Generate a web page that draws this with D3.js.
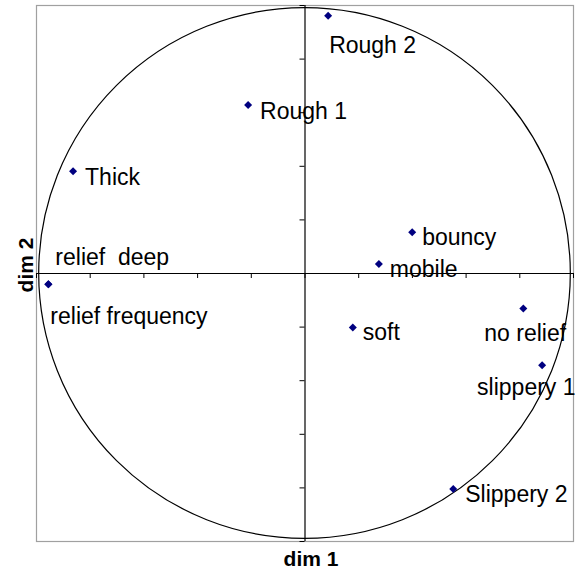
<!DOCTYPE html>
<html><head><meta charset="utf-8">
<script src="https://cdn.jsdelivr.net/npm/d3@7"></script>
<style>body{margin:0;background:#fff;} text{font-family:"Liberation Sans",Arial,sans-serif;}</style>
</head><body><svg id="c" width="586" height="571"></svg>
<script>
const labels = ["Rough 2","Rough 1","Thick","relief  deep","relief frequency","bouncy","mobile","soft","no relief","slippery 1","Slippery 2"];
const dim1 = [0.088,-0.21,-0.862,-0.954,-0.954,0.401,0.277,0.18,0.815,0.885,0.554];
const dim2 = [0.96,0.627,0.38,-0.042,-0.042,0.152,0.034,-0.203,-0.132,-0.344,-0.806];
const ticks = [-1,-0.8,-0.6,-0.4,-0.2,0,0.2,0.4,0.6,0.8,1];
const circleRadius = 0.99;
// label offsets in px (layout)
const labelOffset = {"Rough 2":[1,37],"Rough 1":[12,14],"Thick":[12,14],"relief  deep":[7,-19],"relief frequency":[2,40],"bouncy":[10,13],"mobile":[11,13],"soft":[10,13],"no relief":[-39,33],"slippery 1":[-65,30],"Slippery 2":[12,13]};

const svg = d3.select("#c");
const L=36,R=573,T=5,B=541;
const x = d3.scaleLinear().domain([-1,1]).range([L,R]);
const y = d3.scaleLinear().domain([-1,1]).range([B,T]);

svg.append("rect").attr("x",L+0.5).attr("y",T+0.5).attr("width",R-L).attr("height",B-T)
  .attr("fill","none").attr("stroke","#a0a0a0").attr("stroke-width",1.2);

svg.append("ellipse").attr("cx",x(0)).attr("cy",y(0))
  .attr("rx",x(circleRadius)-x(0)).attr("ry",y(0)-y(circleRadius))
  .attr("fill","none").attr("stroke","#000").attr("stroke-width",1.2);

const xAxis = d3.axisBottom(x).tickValues(ticks).tickSize(5).tickFormat("");
const yAxis = d3.axisLeft(y).tickValues(ticks).tickSize(5).tickFormat("");
const gx = svg.append("g").attr("transform",`translate(0,${y(0)})`).call(xAxis);
const gy = svg.append("g").attr("transform",`translate(${x(0)},0)`).call(yAxis);
[gx,gy].forEach(g=>{g.select(".domain").attr("stroke","#000").attr("stroke-width",1.2);
  g.selectAll(".tick line").attr("stroke","#000");});
gx.select(".domain").attr("d",`M${L},0.5H${R}`);
gy.select(".domain").attr("d",`M0.5,${T}V${B}`);

const pts = labels.map((l,i)=>({l,x:dim1[i],y:dim2[i]}));
svg.append("g").selectAll("path").data(pts).join("path")
  .attr("transform",d=>`translate(${x(d.x)},${y(d.y)})`)
  .attr("d","M0,-4L4,0L0,4L-4,0Z").attr("fill","#000080");

svg.append("g").selectAll("text").data(pts).join("text")
  .attr("x",d=>x(d.x)+labelOffset[d.l][0]).attr("y",d=>y(d.y)+labelOffset[d.l][1])
  .attr("font-size",23).attr("fill","#000").attr("xml:space","preserve").style("white-space","pre")
  .text(d=>d.l);

svg.append("text").attr("x",311).attr("y",566).attr("text-anchor","middle")
  .attr("font-size",21).attr("font-weight","bold").text("dim 1");
svg.append("text").attr("transform",`translate(33,265) rotate(-90)`).attr("text-anchor","middle")
  .attr("font-size",21).attr("font-weight","bold").text("dim 2");
</script></body></html>
